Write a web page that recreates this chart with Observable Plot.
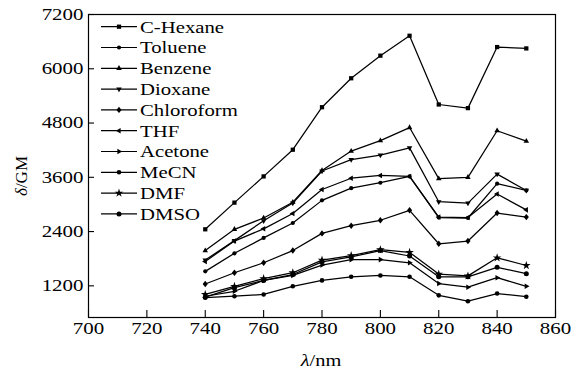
<!DOCTYPE html>
<html><head><meta charset="utf-8">
<script src="https://cdn.jsdelivr.net/npm/d3@7"></script>
<script src="https://cdn.jsdelivr.net/npm/@observablehq/plot@0.6"></script>
<style>
html,body{margin:0;padding:0;background:#fff;}
#chart svg{display:block;}
</style></head><body><div id="chart"></div>
<script>
const wavelengths = [740,750,760,770,780,790,800,810,820,830,840,850];
const seriesNames = ["C-Hexane","Toluene","Benzene","Dioxane","Chloroform","THF","Acetone","MeCN","DMF","DMSO"];
const cHexane    = [2450,3040,3620,4210,5150,5790,6290,6730,5210,5130,6480,6450];
const toluene    = [1520,1920,2260,2590,3090,3360,3480,3620,2710,2700,3460,3310];
const benzene    = [1980,2450,2700,3050,3750,4180,4410,4700,3570,3600,4630,4400];
const dioxane    = [1770,2200,2640,3030,3740,3990,4090,4250,3060,3030,3670,3310];
const chloroform = [1240,1490,1710,1980,2360,2530,2650,2870,2130,2190,2810,2720];
const thf        = [1740,2190,2460,2800,3330,3580,3640,3620,2720,2710,3230,2880];
const acetone    = [970,1080,1320,1430,1660,1780,1780,1710,1250,1170,1380,1190];
const mecn       = [940,970,1010,1190,1320,1400,1430,1400,990,860,1030,960];
const dmf        = [1010,1190,1360,1490,1770,1870,2000,1940,1460,1420,1820,1650];
const dmso       = [950,1160,1320,1450,1730,1840,1980,1860,1400,1400,1610,1470];
const xTicks = [700,720,740,760,780,800,820,840,860];
const yTicks = [1200,2400,3600,4800,6000,7200];

// custom marker shapes
function tri(angle){
  return {draw(ctx,size){
    const r = Math.sqrt(size/Math.PI)*1.45;
    for(let i=0;i<3;i++){
      const a = angle + i*2*Math.PI/3;
      const x = r*Math.cos(a), y = r*Math.sin(a);
      if(i) ctx.lineTo(x,y); else ctx.moveTo(x,y);
    }
    ctx.closePath();
  }};
}
const triUp = tri(-Math.PI/2), triDown = tri(Math.PI/2), triLeft = tri(Math.PI), triRight = tri(0);
const diamondSym = {draw(ctx,size){
  const r = Math.sqrt(size/Math.PI)*1.4;
  ctx.moveTo(0,-r); ctx.lineTo(r*0.8,0); ctx.lineTo(0,r); ctx.lineTo(-r*0.8,0); ctx.closePath();
}};

const seriesValues = [cHexane,toluene,benzene,dioxane,chloroform,thf,acetone,mecn,dmf,dmso];
const seriesSymbols = [d3.symbolSquare,d3.symbolCircle,triUp,triDown,diamondSym,triLeft,triRight,d3.symbolCircle,d3.symbolStar,d3.symbolCircle];
const seriesR = [2.4,2.1,2.2,2.2,2.3,2.2,2.2,2.3,2.7,2.5];

const rows = [];
seriesNames.forEach((name,i)=>{
  wavelengths.forEach((w,j)=>rows.push({series:name, wl:w, v:seriesValues[i][j]}));
});

const FONT = "'Liberation Serif','Times New Roman',serif";

const marks = [
  Plot.frame({stroke:"black", strokeWidth:1.2}),
  Plot.axisX({ticks:xTicks, tickSize:7, dy:-7, fill:"none", label:null, strokeWidth:1.1}),
  Plot.axisX({ticks:xTicks, tickSize:0, tickPadding:5, label:null, tickFormat:d=>String(d)}),
  Plot.axisY({ticks:yTicks, tickSize:6, dx:6, fill:"none", label:null, strokeWidth:1.1}),
  Plot.axisY({ticks:yTicks, tickSize:0, tickPadding:5, label:null, tickFormat:d=>String(d)}),
  Plot.line(rows, {x:"wl", y:"v", z:"series", stroke:"black", strokeWidth:1.25})
];
seriesNames.forEach((name,i)=>{
  marks.push(Plot.dot(rows.filter(d=>d.series===name), {x:"wl", y:"v", symbol:()=>seriesSymbols[i], r:seriesR[i], fill:"black", stroke:"none"}));
});

const plot = Plot.plot({
  width:581, height:378,
  marginLeft:88, marginRight:26, marginTop:14, marginBottom:61,
  x:{domain:[700,860], label:null},
  y:{domain:[500,7200], label:null},
  symbol:{type:"identity"},
  style:{fontFamily:FONT, fontSize:"16.5px", color:"black", background:"white", overflow:"visible"},
  marks
});
document.getElementById("chart").appendChild(plot);

function stretch(t, s){
  const tr = t.getAttribute("transform");
  if(tr){
    t.setAttribute("transform", `${tr} scale(${s},1)`);
  } else {
    const x = +t.getAttribute("x") || 0;
    t.removeAttribute("x");
    t.setAttribute("transform", `translate(${x},0) scale(${s},1)`);
  }
}
plot.querySelectorAll('g[aria-label="x-axis tick label"] text, g[aria-label="y-axis tick label"] text').forEach(t=>stretch(t,1.27));

const svg = d3.select(plot);
// axis titles
const yl = svg.append("text").attr("transform","translate(27,176) rotate(-90)")
  .attr("text-anchor","middle").style("font-family",FONT).style("font-size","17px").attr("fill","black");
yl.append("tspan").style("font-style","italic").text("δ");
yl.append("tspan").text("/GM");
const xl = svg.append("text").attr("transform","translate(321,366) scale(1.2,1)")
  .attr("text-anchor","middle").style("font-family",FONT).style("font-size","17px").attr("fill","black");
xl.append("tspan").style("font-style","italic").text("λ");
xl.append("tspan").text("/nm");

// legend
const lg = svg.append("g").attr("aria-label","legend");
seriesNames.forEach((name,i)=>{
  const y = 26.7 + i*20.8;
  lg.append("line").attr("x1",101).attr("x2",137).attr("y1",y).attr("y2",y).attr("stroke","black").attr("stroke-width",1.2);
  lg.append("path").attr("transform",`translate(119,${y})`)
    .attr("d", d3.symbol(seriesSymbols[i], seriesR[i]*seriesR[i]*Math.PI)()).attr("fill","black");
  lg.append("text").attr("transform",`translate(140,${y}) scale(1.22,1)`).attr("dy","0.35em")
    .attr("text-anchor","start")
    .style("font-family",FONT).style("font-size","17px").attr("fill","black").text(name);
});
</script></body></html>
